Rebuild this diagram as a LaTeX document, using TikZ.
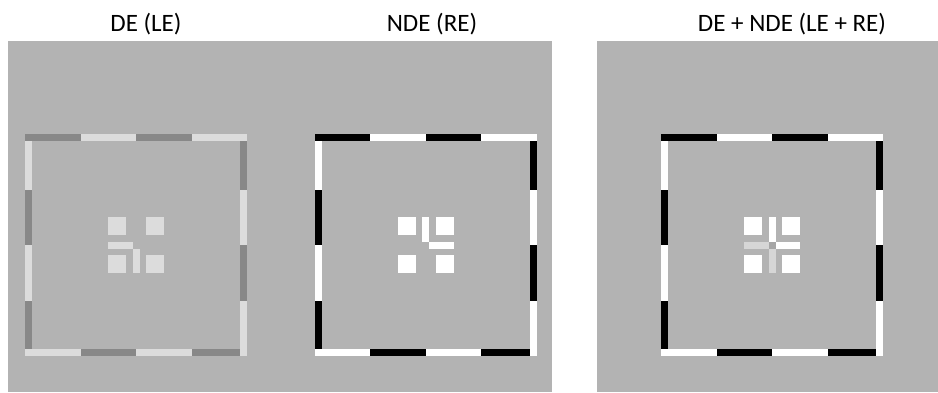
\documentclass[tikz,border=0pt]{standalone}
\usepackage{fontspec}
\setmainfont{Carlito}
\definecolor{bggray}{HTML}{B3B3B3}
\definecolor{dkgray}{HTML}{888888}
\definecolor{ltgray}{HTML}{DCDCDC}
\definecolor{armgray}{HTML}{D6D6D6}
\definecolor{dotgray}{HTML}{A6A6A6}
\tikzset{
  panel/.style = {fill=bggray},
  title/.style = {anchor=base, inner sep=0pt, font=\fontsize{25}{30}\selectfont},
}

% dashed frame: #1 centre x, #2 dark dash, #3 light dash
\newcommand{\fuseframe}[3]{%
  \begin{scope}[shift={(#1,245)}]
    \foreach \k in {0,1,2,3} {
      \pgfmathsetmacro{\a}{-111+55.5*\k}
      \pgfmathsetmacro{\b}{-55.5+55.5*\k}
      \pgfmathsetmacro{\ai}{max(\a,-104)}
      \pgfmathsetmacro{\bi}{min(\b,104)}
      \ifodd\k\relax \def\cu{#3}\def\cv{#2}\else \def\cu{#2}\def\cv{#3}\fi
      \fill[\cu] (\a,-111) rectangle (\b,-104);   % top
      \fill[\cu] (104,\ai) rectangle (111,\b);     % right
      \fill[\cv] (\a,104) rectangle (\bi,111);     % bottom
      \fill[\cv] (-111,\ai) rectangle (-104,\bi);  % left
    }
  \end{scope}}

% four squares round the centre
\newcommand{\fusequads}[2]{%
  \foreach \sx/\sy in {-1/-1,1/-1,-1/1,1/1}
    \fill[#2] ({#1+10*\sx},{245+10*\sy}) rectangle ({#1+28*\sx},{245+28*\sy});}

\begin{document}
\begin{tikzpicture}[x=1pt, y=-1pt]
  \useasboundingbox (0,0) rectangle (938,392);

  % panels
  \fill[panel] (8,41) rectangle (552,392);
  \fill[panel] (597,41) rectangle (938,392);

  % titles
  \node[title] (tle) at (146,31) {DE (LE)};
  \node[title] (tre) at (432,31) {NDE (RE)};
  \node[title] (tbo) at (792,31) {DE + NDE (LE + RE)};

  % DE (LE)
  \fuseframe{136}{dkgray}{ltgray}
  \fusequads{136}{ltgray}
  \fill[ltgray] (108,241.5) rectangle (132.5,248.5);
  \fill[ltgray] (132.5,248.5) rectangle (139.5,273);

  % NDE (RE)
  \fuseframe{425.5}{black}{white}
  \fusequads{425.5}{white}
  \fill[white] (422,217) rectangle (429,241.5);
  \fill[white] (429,241.5) rectangle (453.5,248.5);

  % DE + NDE
  \fuseframe{772}{black}{white}
  \fusequads{772}{white}
  \fill[armgray] (744,241.5) rectangle (768.5,248.5);
  \fill[armgray] (768.5,248.5) rectangle (775.5,273);
  \fill[white] (768.5,217) rectangle (775.5,241.5);
  \fill[white] (775.5,241.5) rectangle (800,248.5);
  \fill[dotgray] (768.5,241.5) rectangle (775.5,248.5);
\end{tikzpicture}
\end{document}
